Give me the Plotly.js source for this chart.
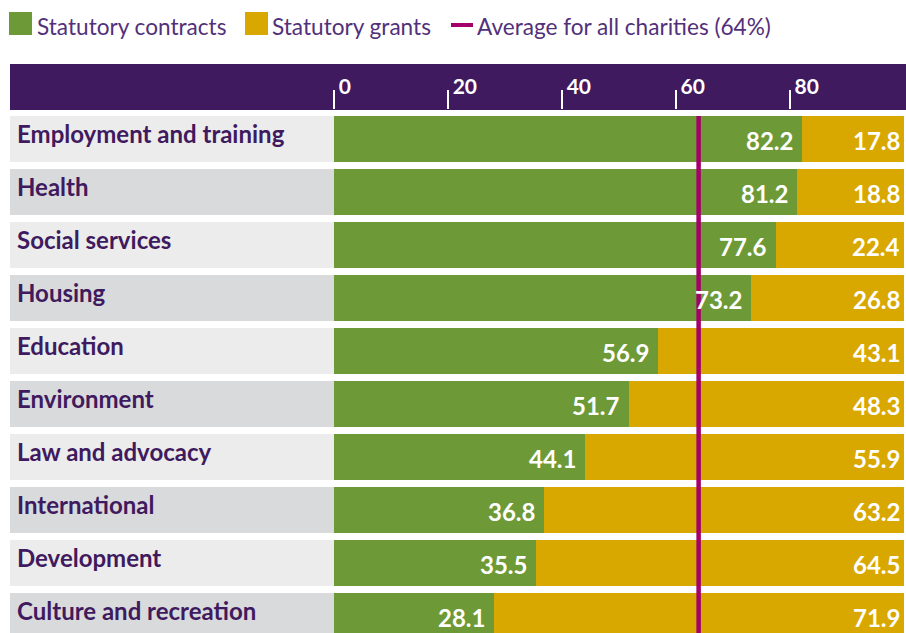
<!DOCTYPE html>
<html>
<head>
<meta charset="utf-8">
<script src="https://cdn.plot.ly/plotly-3.0.1.min.js"></script>
<style>html,body{margin:0;padding:0;background:#fff;}#chart{width:906px;height:633px;}</style>
</head>
<body>
<div id="chart"></div>
<script>
const categories = ['Employment and training','Health','Social services','Housing','Education','Environment','Law and advocacy','International','Development','Culture and recreation'];
const contracts = [82.2, 81.2, 77.6, 73.2, 56.9, 51.7, 44.1, 36.8, 35.5, 28.1];
const grants = [17.8, 18.8, 22.4, 26.8, 43.1, 48.3, 55.9, 63.2, 64.5, 71.9];
const averageValue = 64;
const xTickVals = [0, 20, 40, 60, 80];
const seriesNames = ['Statutory contracts', 'Statutory grants', 'Average for all charities (64%)'];

const W = 906, H = 633;
const px = x => x / W;
const py = y => 1 - y / H;

const GREEN = '#6d9a37', YELLOW = '#d9a800', PURPLE = '#3f1a5e', MAGENTA = '#a3006b';
const LEGEND_TEXT = '#52307a';
const FONT = 'Lato, "Open Sans", sans-serif';

const traces = [
  {type: 'bar', orientation: 'h', name: seriesNames[0], y: categories, x: contracts,
   marker: {color: GREEN, line: {width: 0}}, width: 0.868, hoverinfo: 'x+y'},
  {type: 'bar', orientation: 'h', name: seriesNames[1], y: categories, x: grants,
   marker: {color: YELLOW, line: {width: 0}}, width: 0.868, hoverinfo: 'x+y'}
];

const shapes = [];
const annotations = [];

// header band
shapes.push({type: 'rect', xref: 'paper', yref: 'paper', x0: px(10), x1: 1, y0: py(110), y1: py(64),
  fillcolor: PURPLE, line: {width: 0}, layer: 'below'});

// row label backgrounds + labels + values
categories.forEach((c, i) => {
  shapes.push({type: 'rect', xref: 'paper', yref: 'y', x0: px(10), x1: px(334),
    y0: i - 0.434, y1: i + 0.434, fillcolor: i % 2 === 0 ? '#ececec' : '#d9dadb',
    line: {width: 0}, layer: 'below'});
  annotations.push({xref: 'paper', yref: 'y', x: px(15), y: c, xanchor: 'left', yanchor: 'middle',
    yshift: 5, text: '<b>' + c + '</b>', showarrow: false,
    font: {family: FONT, size: 24, color: PURPLE}});
  annotations.push({xref: 'x', yref: 'y', x: contracts[i], y: c, xanchor: 'right', yanchor: 'middle',
    xshift: -7, yshift: -2, text: '<b>' + contracts[i].toFixed(1) + '</b>', showarrow: false,
    font: {family: FONT, size: 24, color: '#ffffff'}});
  annotations.push({xref: 'x', yref: 'y', x: contracts[i] + grants[i], y: c, xanchor: 'right', yanchor: 'middle',
    xshift: -2, yshift: -2, text: '<b>' + grants[i].toFixed(1) + '</b>', showarrow: false,
    font: {family: FONT, size: 24, color: '#ffffff'}});
});

// average line
shapes.push({type: 'line', xref: 'x', yref: 'paper', x0: averageValue, x1: averageValue,
  y0: 0, y1: py(116), line: {color: MAGENTA, width: 4.5}, layer: 'above'});

// legend
shapes.push({type: 'rect', xref: 'paper', yref: 'paper', x0: px(9), x1: px(32), y0: py(35), y1: py(12),
  fillcolor: GREEN, line: {width: 0}});
shapes.push({type: 'rect', xref: 'paper', yref: 'paper', x0: px(245), x1: px(268), y0: py(35), y1: py(12),
  fillcolor: YELLOW, line: {width: 0}});
shapes.push({type: 'line', xref: 'paper', yref: 'paper', x0: px(451), x1: px(473), y0: py(25), y1: py(25),
  line: {color: MAGENTA, width: 4}});
[[35, 0], [270, 1], [475, 2]].forEach(([x, k]) => {
  annotations.push({xref: 'paper', yref: 'paper', x: px(x), y: py(27), xanchor: 'left', yanchor: 'middle',
    text: seriesNames[k], showarrow: false, font: {family: FONT, size: 22.6, color: LEGEND_TEXT}});
});

const layout = {
  width: W, height: H,
  margin: {l: 0, r: 0, t: 0, b: 0, pad: 0},
  paper_bgcolor: '#ffffff', plot_bgcolor: 'rgba(0,0,0,0)',
  barmode: 'stack', bargap: 0,
  showlegend: false,
  font: {family: FONT},
  xaxis: {
    domain: [px(334), 1], range: [0, 100.4], side: 'top', anchor: 'y',
    tickmode: 'array', tickvals: xTickVals, ticktext: xTickVals.map(String),
    ticks: 'outside', ticklen: 19, tickwidth: 1.5, tickcolor: '#ffffff',
    ticklabelposition: 'outside right', ticklabelstandoff: 7, ticklabelshift: 4,
    tickfont: {family: FONT, size: 21, color: '#ffffff', weight: 'bold'},
    showgrid: false, zeroline: false, showline: false, fixedrange: true
  },
  yaxis: {
    domain: [0, py(110)], type: 'category', categoryorder: 'array', categoryarray: categories,
    range: [9.321, -0.547], showticklabels: false, ticks: '', showgrid: false, zeroline: false,
    showline: false, fixedrange: true
  },
  shapes: shapes,
  annotations: annotations
};

Plotly.newPlot('chart', traces, layout, {displayModeBar: false, staticPlot: true});
</script>
</body>
</html>
